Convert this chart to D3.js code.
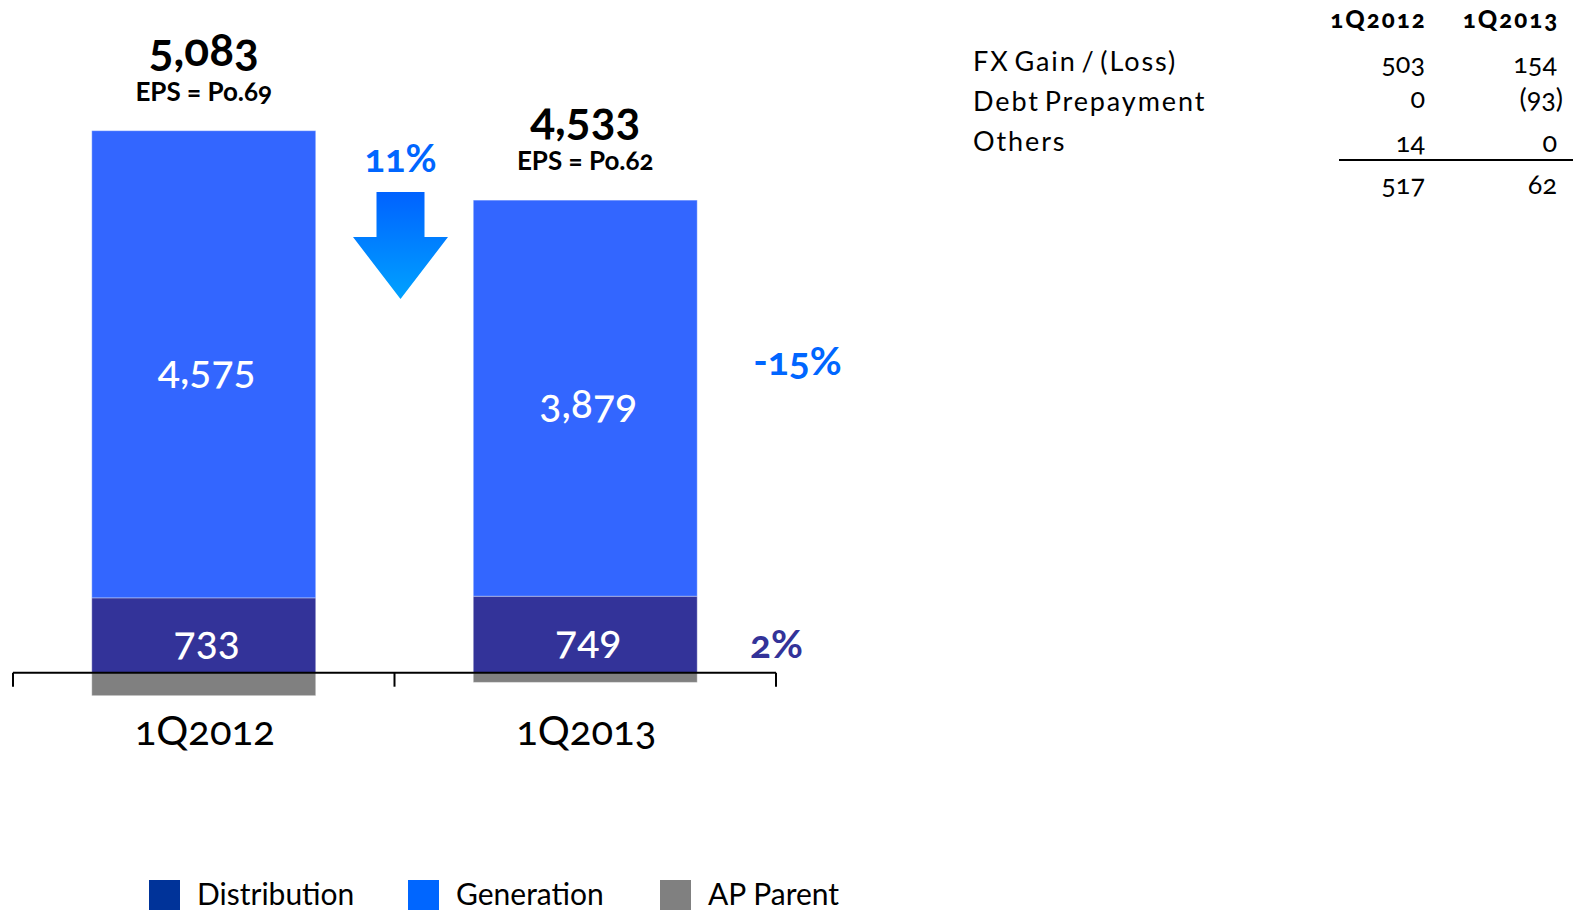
<!DOCTYPE html>
<html><head><meta charset="utf-8">
<script src="https://cdn.jsdelivr.net/npm/d3@7/dist/d3.min.js"></script>
<style>
body{margin:0;background:#fff}
svg text{font-family:Lato,"Open Sans",sans-serif;font-variant-numeric:oldstyle-nums}
</style></head><body><svg id="chart" width="1581" height="910"></svg>
<script>
// ---- data ----
const categories = ["1Q2012", "1Q2013"];
const seriesNames = ["Distribution", "Generation", "AP Parent"];
const distribution = [733, 749];
const generation = [4575, 3879];
const apParent = [-225, -95];
const totals = [5083, 4533];
const epsLabels = ["EPS = Po.69", "EPS = Po.62"];
const changeTotal = "11%";
const changeGeneration = "-15%";
const changeDistribution = "2%";
const tableColumns = ["1Q2012", "1Q2013"];
const tableRows = ["FX Gain / (Loss)", "Debt Prepayment", "Others"];
const table2012 = [503, 0, 14];
const table2013 = [154, -93, 0];
const tableTotals = [517, 62];

// ---- setup ----
const svg = d3.select("#chart");
const barColor = {"Distribution": "#333399", "Generation": "#3366FF", "AP Parent": "#808080"};
const legendColor = {"Distribution": "#003399", "Generation": "#0066FF", "AP Parent": "#808080"};

const rows = categories.map((c, i) => ({cat: c, "Distribution": distribution[i], "Generation": generation[i], "AP Parent": apParent[i]}));
const stacked = d3.stack().keys(seriesNames).offset(d3.stackOffsetDiverging)(rows);
const yMax = d3.max(stacked, s => d3.max(s, d => d[1]));

const x = d3.scaleBand().domain(categories).range([13, 776]).paddingInner(0.413).paddingOuter(0.2065);
const y = d3.scaleLinear().domain([0, yMax]).range([672.7, 130.7]);
const fmt = d3.format(",");

// bars
svg.append("g").selectAll("g").data(stacked).join("g")
  .attr("fill", s => barColor[s.key])
  .selectAll("rect").data(s => s).join("rect")
  .attr("x", d => x(d.data.cat))
  .attr("width", x.bandwidth())
  .attr("y", d => y(d[1]))
  .attr("height", d => y(d[0]) - y(d[1]))
  .attr("stroke", "rgba(255,255,255,0.35)").attr("stroke-width", 1);

// inner labels
const inner = stacked.filter(s => s.key !== "AP Parent");
svg.append("g").selectAll("g").data(inner).join("g")
  .selectAll("text").data(s => s).join("text")
  .attr("x", d => x(d.data.cat) + x.bandwidth() / 2 + 3)
  .attr("y", d => (y(d[0]) + y(d[1])) / 2 + 20)
  .attr("text-anchor", "middle")
  .attr("fill", "#fff").attr("font-size", 41).attr("font-weight", 500)
  .text(d => fmt(d[1] - d[0]));

// axis
const ax = svg.append("g");
ax.append("line").attr("x1", x.range()[0]).attr("x2", x.range()[1]).attr("y1", y(0)).attr("y2", y(0))
  .attr("stroke", "#000").attr("stroke-width", 2);
const bounds = [x.range()[0]].concat(categories.map(c => x(c) - x.step() * x.paddingInner() / 2 + x.step()));
bounds[bounds.length - 1] = x.range()[1];
ax.selectAll("line.tick").data(bounds).join("line").attr("class", "tick")
  .attr("x1", d => d).attr("x2", d => d).attr("y1", y(0)).attr("y2", y(0) + 14)
  .attr("stroke", "#000").attr("stroke-width", 2);
ax.selectAll("text").data(categories).join("text")
  .attr("x", d => x(d) + x.bandwidth() / 2 + 1)
  .attr("y", 745)
  .attr("text-anchor", "middle").attr("font-size", 40).attr("fill", "#000")
  .text(d => d);

// totals + EPS
const tops = categories.map((c, i) => y(distribution[i] + generation[i]));
svg.append("g").selectAll("text").data(categories).join("text")
  .attr("x", d => x(d) + x.bandwidth() / 2)
  .attr("y", (d, i) => tops[i] - 65)
  .attr("text-anchor", "middle").attr("font-size", 46).attr("font-weight", 700).attr("fill", "#000")
  .text((d, i) => fmt(totals[i]));
svg.append("g").selectAll("text").data(categories).join("text")
  .attr("x", d => x(d) + x.bandwidth() / 2)
  .attr("y", (d, i) => tops[i] - 30)
  .attr("text-anchor", "middle").attr("font-size", 26).attr("font-weight", 700).attr("fill", "#000")
  .text((d, i) => epsLabels[i]);

// arrow
const defs = svg.append("defs");
const grad = defs.append("linearGradient").attr("id", "arrowGrad").attr("x1", 0).attr("x2", 0).attr("y1", 0).attr("y2", 1);
grad.append("stop").attr("offset", "0%").attr("stop-color", "#0062FF");
grad.append("stop").attr("offset", "100%").attr("stop-color", "#00A2FF");
const gapMid = (x(categories[0]) + x.bandwidth() + x(categories[1])) / 2 + 6;
const aTop = 192, aNeck = 237, aTip = 299, shaftHalf = 24, headHalf = 47.5;
svg.append("path")
  .attr("d", `M${gapMid - shaftHalf},${aTop}H${gapMid + shaftHalf}V${aNeck}H${gapMid + headHalf}L${gapMid},${aTip}L${gapMid - headHalf},${aNeck}H${gapMid - shaftHalf}Z`)
  .attr("fill", "url(#arrowGrad)");
svg.append("text").attr("x", gapMid).attr("y", 172).attr("text-anchor", "middle")
  .attr("font-size", 38).attr("font-weight", 700).attr("fill", "#0066FF").text(changeTotal);

// side changes
svg.append("text").attr("x", 797.5).attr("y", (y(distribution[1]) + y(distribution[1] + generation[1])) / 2 - 23)
  .attr("text-anchor", "middle").attr("font-size", 39).attr("font-weight", 700).attr("fill", "#0066FF").text(changeGeneration);
svg.append("text").attr("x", 776.5).attr("y", (y(0) + y(distribution[1])) / 2 + 23.5)
  .attr("text-anchor", "middle").attr("font-size", 39).attr("font-weight", 700).attr("fill", "#333399").text(changeDistribution);

// legend
const legendX = [149, 408, 660];
const lg = svg.append("g").selectAll("g").data(seriesNames).join("g")
  .attr("transform", (d, i) => `translate(${legendX[i]},880)`);
lg.append("rect").attr("width", 31).attr("height", 31).attr("fill", d => legendColor[d]);
lg.append("text").attr("x", 48).attr("y", 25).attr("font-size", 30).attr("fill", "#000").text(d => d);

// table
const tbl = svg.append("g");
const colRight = [1425, 1557];
const colCenter = [1378.5, 1511];
const rowBase = [70.7, 111, 150.7];
const numBase = [73, 108, 152];
const fmtParen = v => v < 0 ? `(${-v})` : `${v}`;
tbl.selectAll("text.hdr").data(tableColumns).join("text").attr("class", "hdr")
  .attr("x", (d, i) => colCenter[i]).attr("y", 28).attr("text-anchor", "middle")
  .attr("font-size", 24).attr("font-weight", 900).attr("letter-spacing", 2).attr("fill", "#000").text(d => d);
tbl.selectAll("text.lbl").data(tableRows).join("text").attr("class", "lbl")
  .attr("x", 973).attr("y", (d, i) => rowBase[i]).attr("font-size", 27)
  .attr("letter-spacing", 1.9).attr("word-spacing", -4).attr("fill", "#000").text(d => d);
[table2012, table2013].forEach((col, ci) => {
  tbl.selectAll(`text.c${ci}`).data(col).join("text").attr("class", `c${ci}`)
    .attr("x", d => colRight[ci] + (d < 0 ? 6 : 0)).attr("y", (d, i) => numBase[i])
    .attr("text-anchor", "end").attr("font-size", 27).attr("fill", "#000").text(fmtParen);
});
tbl.append("line").attr("x1", 1339).attr("x2", 1573).attr("y1", 160).attr("y2", 160).attr("stroke", "#000").attr("stroke-width", 2);
tbl.selectAll("text.tot").data(tableTotals).join("text").attr("class", "tot")
  .attr("x", (d, i) => colRight[i]).attr("y", 194).attr("text-anchor", "end")
  .attr("font-size", 27).attr("fill", "#000").text(fmtParen);
</script></body></html>
